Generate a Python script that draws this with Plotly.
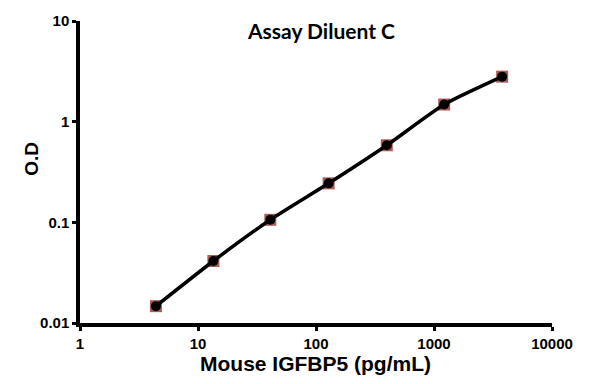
import plotly.graph_objects as go

conc = [4.4, 13.5, 41, 128, 398, 1220, 3780]
od = [0.0147, 0.0413, 0.106, 0.244, 0.583, 1.48, 2.8]
x_ticks = [1, 10, 100, 1000, 10000]
x_tick_text = ["1", "10", "100", "1000", "10000"]
y_ticks = [0.01, 0.1, 1, 10]
y_tick_text = ["0.01", "0.1", "1", "10"]

fig = go.Figure()
fig.add_trace(go.Scatter(x=conc, y=od, mode="markers",
                         marker=dict(symbol="square", size=12, color="#b05a58",
                                     line=dict(width=0)),
                         hoverinfo="skip", showlegend=False))
fig.add_trace(go.Scatter(x=conc, y=od, mode="lines+markers",
                         line=dict(color="black", width=3.5, shape="spline", smoothing=0.6),
                         marker=dict(symbol="circle", size=10, color="black"),
                         showlegend=False))

tickfont = dict(family="Liberation Sans, Arial", size=15, color="black", weight="bold")
fig.update_xaxes(type="log", range=[0, 4], tickvals=x_ticks, ticktext=x_tick_text,
                 showgrid=False, zeroline=False, showline=True, linecolor="black",
                 linewidth=3.5, ticks="outside", ticklen=4, tickwidth=2.5, tickcolor="black",
                 tickfont=tickfont)
fig.update_yaxes(type="log", range=[-2, 1], tickvals=y_ticks, ticktext=y_tick_text,
                 showgrid=False, zeroline=False, showline=True, linecolor="black",
                 linewidth=3.5, ticks="outside", ticklen=4, tickwidth=2.5, tickcolor="black",
                 tickfont=tickfont)

fig.update_layout(
    width=595, height=384,
    margin=dict(l=80, r=43, t=16, b=61),
    plot_bgcolor="white", paper_bgcolor="white",
    annotations=[
        dict(text="Assay Diluent C", xref="paper", yref="paper", x=0.51, y=1,
             yshift=-9, xanchor="center", yanchor="middle", showarrow=False,
             font=dict(family="Lato", size=21, color="black", weight="bold")),
        dict(text="Mouse IGFBP5 (pg/mL)", xref="paper", yref="paper", x=0.498, y=0,
             yshift=-40, xanchor="center", yanchor="middle", showarrow=False,
             font=dict(family="Liberation Sans, Arial", size=21, color="black", weight="bold")),
        dict(text="O.D", xref="paper", yref="paper", x=0, y=0.544, xshift=-48,
             xanchor="center", yanchor="middle", textangle=-90, showarrow=False,
             font=dict(family="Liberation Sans, Arial", size=19, color="black", weight="bold")),
    ],
)

fig.write_html("out.html")
